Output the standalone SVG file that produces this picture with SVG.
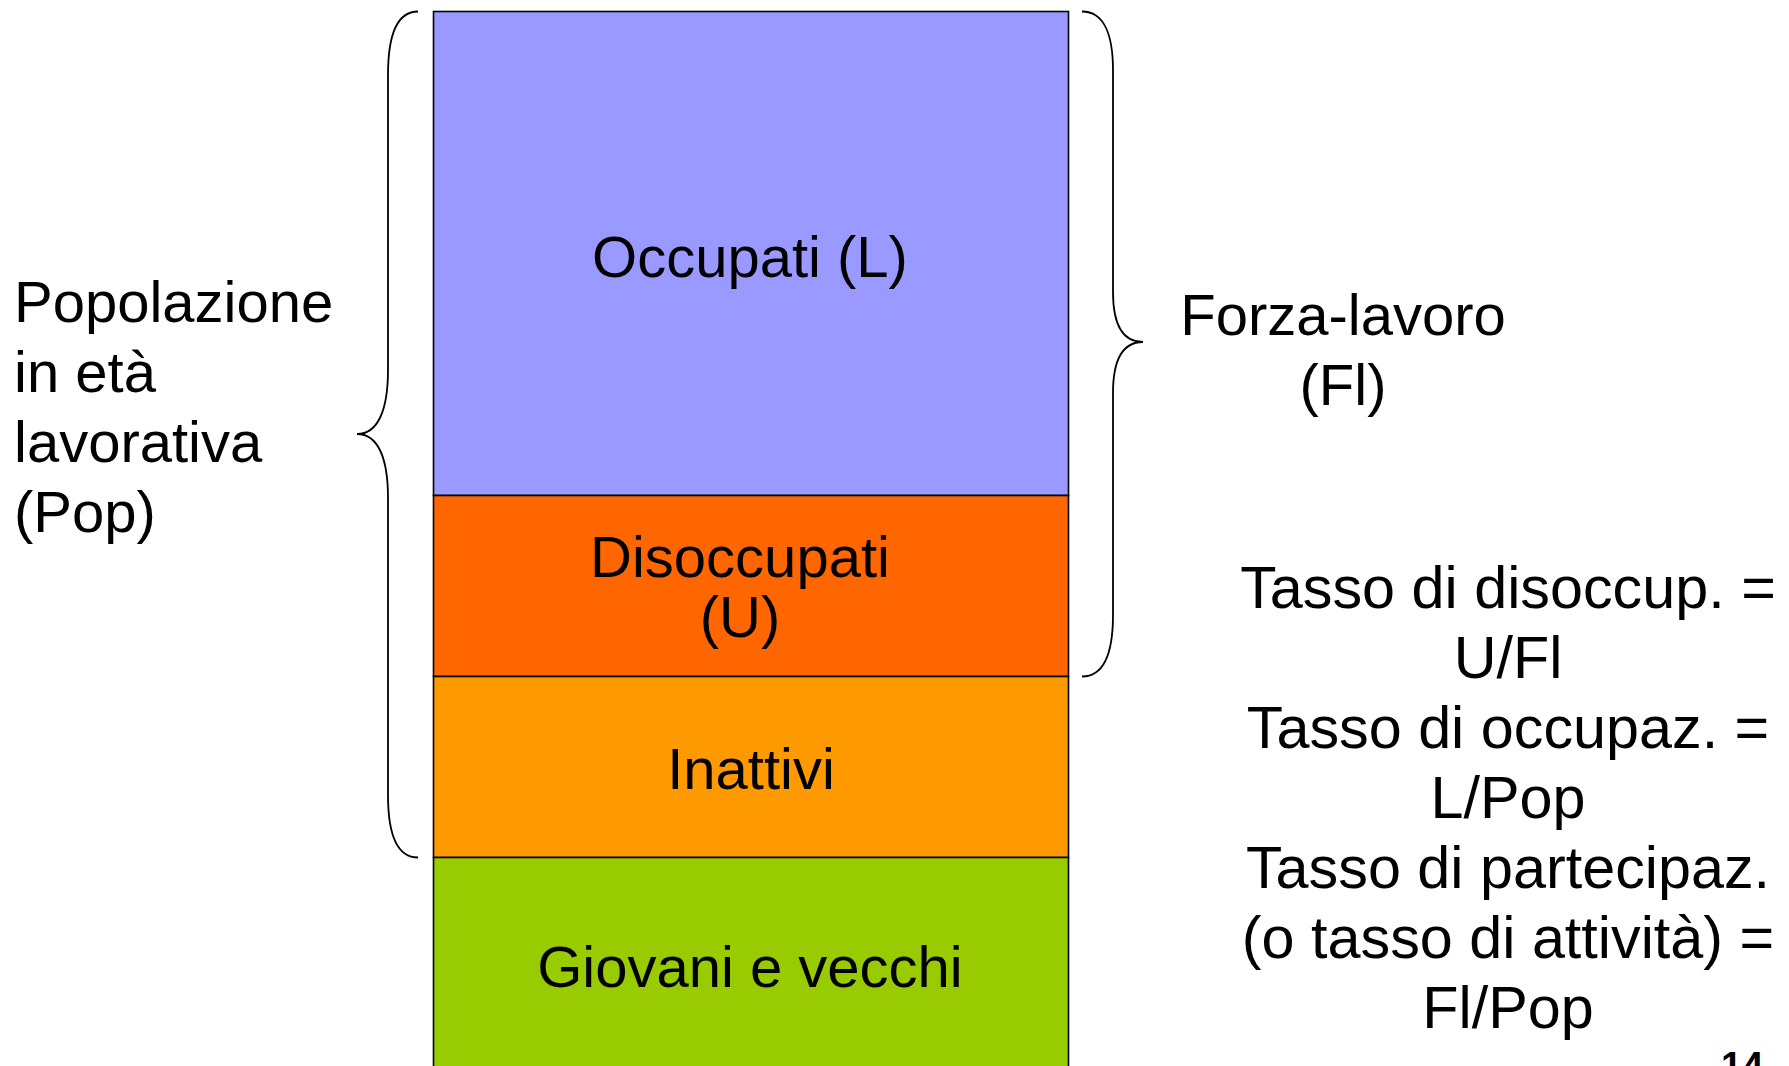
<svg xmlns="http://www.w3.org/2000/svg" width="1789" height="1066" viewBox="0 0 1789 1066">
<style>
  .t { font-family: "Liberation Sans", Arial, sans-serif; font-size: 58px; fill: #000; }
  .r { font-size: 59.3px; }
  .c { text-anchor: middle; }
  .box { stroke: #000; stroke-width: 1.6; }
  .brace { fill: none; stroke: #000; stroke-width: 1.8; }
</style>
<rect width="1789" height="1066" fill="#fff"/>
<g id="occupati">
  <rect class="box" x="433.5" y="11.5" width="635" height="484" fill="#9999FF"/>
  <text class="t c" x="750" y="277">Occupati (L)</text>
</g>
<g id="disoccupati">
  <rect class="box" x="433.5" y="495.5" width="635" height="181" fill="#FF6600"/>
  <text class="t c" x="740" y="577">Disoccupati</text>
  <text class="t c" x="740" y="637">(U)</text>
</g>
<g id="inattivi">
  <rect class="box" x="433.5" y="676.5" width="635" height="181" fill="#FF9900"/>
  <text class="t c" x="751" y="789">Inattivi</text>
</g>
<g id="giovani">
  <rect class="box" x="433.5" y="857.5" width="635" height="215" fill="#99CC00"/>
  <text class="t c" x="750" y="987">Giovani e vecchi</text>
</g>
<g id="connectors">
  <path class="brace" d="M 418 11.5 C 396 11.5, 388 38, 388 75 L 388 370 C 388 410, 378 434, 357 434 C 378 434, 388 458, 388 498 L 388 795 C 388 832, 396 857.5, 418 857.5"/>
  <path class="brace" d="M 1082 11.5 C 1104 11.5, 1113 35, 1113 70 L 1113 292 C 1113 326, 1124 342, 1143 342 C 1124 342, 1113 358, 1113 393 L 1113 615 C 1113 652, 1104 676.5, 1082 676.5"/>
</g>
<g id="popolazione">
  <text class="t" x="14" y="322">Popolazione</text>
  <text class="t" x="14" y="392">in età</text>
  <text class="t" x="14" y="462">lavorativa</text>
  <text class="t" x="14" y="532">(Pop)</text>
</g>
<g id="forza-lavoro">
  <text class="t c" x="1343" y="335">Forza-lavoro</text>
  <text class="t c" x="1343" y="405">(Fl)</text>
</g>
<g id="tassi">
  <text class="t r c" x="1508" y="608">Tasso di disoccup. =</text>
  <text class="t r c" x="1508" y="678">U/Fl</text>
  <text class="t r c" x="1508" y="748">Tasso di occupaz. =</text>
  <text class="t r c" x="1508" y="818">L/Pop</text>
  <text class="t r c" x="1508" y="888">Tasso di partecipaz.</text>
  <text class="t r c" x="1508" y="958">(o tasso di attività) =</text>
  <text class="t r c" x="1508" y="1028">Fl/Pop</text>
</g>
<g id="page-number">
  <text x="1721" y="1079" font-family="Liberation Sans, Arial, sans-serif" font-size="38" font-weight="bold">14</text>
</g>
</svg>
